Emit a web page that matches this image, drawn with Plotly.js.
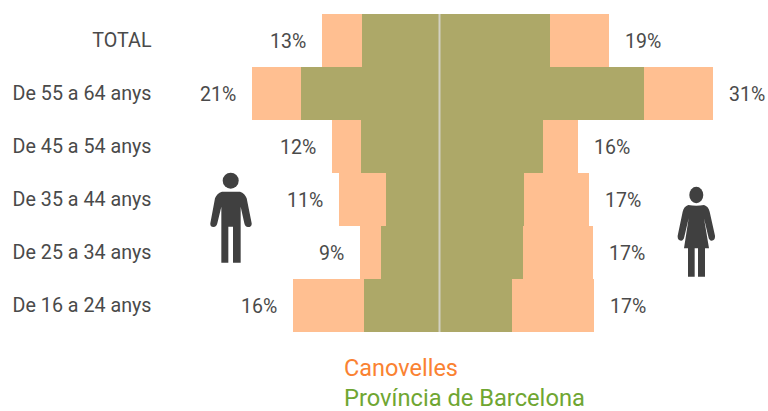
<!DOCTYPE html>
<html>
<head>
<meta charset="utf-8">
<script src="https://cdn.plot.ly/plotly-3.0.1.min.js"></script>
<style>html,body{margin:0;padding:0;background:#fff}#chart{width:768px;height:411px}</style>
</head>
<body>
<div id="chart"></div>
<script>
var categories = ["TOTAL","De 55 a 64 anys","De 45 a 54 anys","De 35 a 44 anys","De 25 a 34 anys","De 16 a 24 anys"];
var canovellesMen = [13.2,21.1,12.1,11.3,8.9,16.45];
var canovellesWomen = [19.0,30.7,15.6,16.8,17.2,17.4];
var barcelonaMen = [8.7,15.6,8.8,6.0,6.6,8.5];
var barcelonaWomen = [12.4,23.0,11.6,9.5,9.4,8.2];

var W = 768, H = 411, TOP = 14, BOTTOM = 332, PX_PER_UNIT = 8.9, ZERO_PX = 439.5;
var FONT = 'Roboto,"Liberation Sans",Arial,sans-serif';
var TEXT = '#4a4a4a', ICON = '#404040', PEACH = '#FFBF91', OLIVE = '#ADA868';

function neg(a){return a.map(function(v){return -v;});}
function barTrace(name,x,color){
  return {type:'bar',orientation:'h',name:name,y:categories,x:x,
    marker:{color:color,line:{width:0}},hoverinfo:'skip',showlegend:false};
}
var traces = [
  barTrace('Canovelles homes',neg(canovellesMen),PEACH),
  barTrace('Canovelles dones',canovellesWomen,PEACH),
  barTrace('Província homes',neg(barcelonaMen),OLIVE),
  barTrace('Província dones',barcelonaWomen,OLIVE)
];
var annotations = [];
categories.forEach(function(c,i){
  annotations.push({xref:'x',yref:'y',x:-canovellesMen[i],y:c,text:Math.round(canovellesMen[i])+'%',
    showarrow:false,xanchor:'right',xshift:-14,yshift:-1,font:{family:FONT,size:19.5,color:TEXT}});
  annotations.push({xref:'x',yref:'y',x:canovellesWomen[i],y:c,text:Math.round(canovellesWomen[i])+'%',
    showarrow:false,xanchor:'left',xshift:14,yshift:-1,font:{family:FONT,size:19.5,color:TEXT}});
});
function px(x){return x/W;}
function py(y){return (BOTTOM-y)/(BOTTOM-TOP);}
annotations.push({xref:'paper',yref:'paper',x:px(342),y:py(368),yanchor:'middle',text:'Canovelles',showarrow:false,xanchor:'left',
  font:{family:FONT,size:23.5,color:'#FA8232'}});
annotations.push({xref:'paper',yref:'paper',x:px(342),y:py(398),yanchor:'middle',text:'Província de Barcelona',showarrow:false,xanchor:'left',
  font:{family:FONT,size:23.7,color:'#6FA632'}});

function icon(ox,oy,cmds){
  var d='';
  cmds.forEach(function(s){
    var cmd=s[0], nums=s.slice(1), out=[];
    for(var k=0;k<nums.length;k+=2){out.push(px(ox+nums[k]/3)+','+py(oy+nums[k+1]/3));}
    d+=cmd+out.join(' ')+' ';
  });
  return {type:'path',xref:'paper',yref:'paper',path:d+'Z',fillcolor:ICON,line:{width:0},layer:'above'};
}
var man = icon(190,165,[['M',96,80],['L',150,80],['Q',165,85,170,100],['L',185,175],['Q',186,186,174,186],['Q',165,186,163,175],
  ['L',152,125],['L',152,293],['L',129,293],['L',129,185],['L',115,185],['L',115,293],['L',94,293],['L',94,125],['L',82,175],
  ['Q',80,186,70,186],['Q',60,186,61,175],['L',75,100],['Q',80,85,96,80]]);
var woman = icon(560,165,[['M',385,120],['Q',409,124,432,120],['Q',445,124,449,140],['L',465,212],['Q',466,226,455,227],['Q',447,226,445,215],
  ['L',432,160],['L',447,250],['L',435,250],['L',435,335],['L',414,335],['L',414,250],['L',404,250],['L',404,335],['L',384,335],['L',384,250],['L',372,250],
  ['L',386,160],['L',373,215],['Q',371,226,363,227],['Q',352,226,353,212],['L',368,140],['Q',372,124,385,120]]);
function head(cx,cy,rx,ry){
  return {type:'circle',xref:'paper',yref:'paper',x0:px(cx-rx),x1:px(cx+rx),y0:py(cy+ry),y1:py(cy-ry),fillcolor:ICON,line:{width:0},layer:'above'};
}
var shapes = [
  {type:'line',xref:'x',yref:'paper',x0:0,x1:0,y0:0,y1:1,line:{color:'#D2D0C2',width:2},layer:'above'},
  man, head(230.7,180.7,8,8),
  woman, head(696.3,195,7,8.2)
];
var layout = {
  width:W,height:H,
  margin:{l:0,r:0,t:TOP,b:H-BOTTOM,pad:0},
  paper_bgcolor:'#fff',plot_bgcolor:'#fff',
  barmode:'overlay',bargap:0,
  showlegend:false,
  xaxis:{range:[-ZERO_PX/PX_PER_UNIT,(W-ZERO_PX)/PX_PER_UNIT],showgrid:false,zeroline:false,showticklabels:false,ticks:'',showline:false,fixedrange:true},
  yaxis:{type:'category',categoryorder:'array',categoryarray:categories,range:[5.5,-0.5],anchor:'free',position:151.5/W,
    showgrid:false,zeroline:false,showline:false,ticks:'',automargin:false,fixedrange:true,
    tickfont:{family:FONT,size:19.7,color:TEXT}},
  annotations:annotations,shapes:shapes
};
Plotly.newPlot('chart',traces,layout,{displayModeBar:false,responsive:false});
</script>
</body>
</html>
